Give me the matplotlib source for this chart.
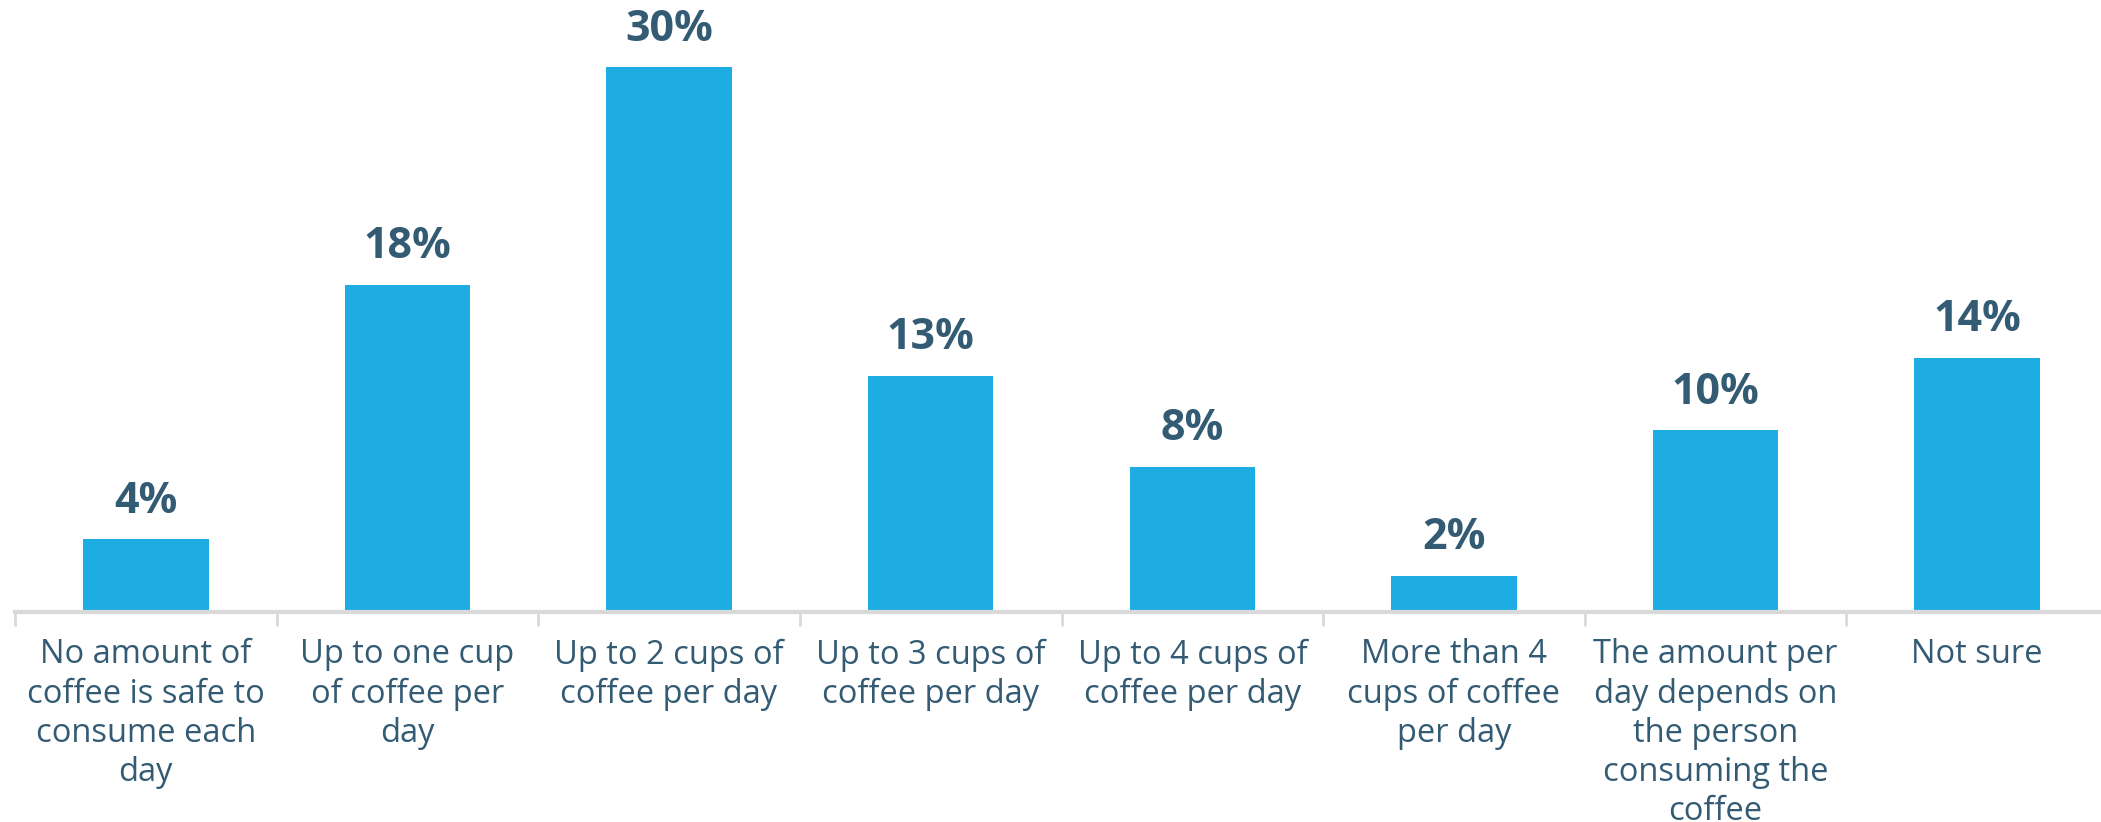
import matplotlib.pyplot as plt

# survey answers: how much coffee is safe per day
categories = [
    "No amount of\ncoffee is safe to\nconsume each\nday",
    "Up to one cup\nof coffee per\nday",
    "Up to 2 cups of\ncoffee per day",
    "Up to 3 cups of\ncoffee per day",
    "Up to 4 cups of\ncoffee per day",
    "More than 4\ncups of coffee\nper day",
    "The amount per\nday depends on\nthe person\nconsuming the\ncoffee",
    "Not sure",
]
shares = [4, 18, 30, 13, 8, 2, 10, 14]

bar_color = "#1EADE3"
text_color = "#335B74"
axis_color = "#D9D9D9"

fig = plt.figure(figsize=(21.01, 8.22), dpi=100)
# axes run slightly past the right edge, like the original slide
ax = fig.add_axes([15 / 2101, 210 / 822, 2093 / 2101, 612 / 822])

x = list(range(len(shares)))
bars = ax.bar(x, shares, width=0.48, color=bar_color, zorder=2)

for rect, v in zip(bars, shares):
    ax.annotate(f"{v}%", (rect.get_x() + rect.get_width() / 2, v),
                xytext=(0, 12), textcoords="offset points",
                ha="center", va="bottom", fontsize=31, fontweight="bold",
                family="Open Sans", color=text_color)

ax.set_xlim(-0.5, len(shares) - 0.5)
ax.set_ylim(0, 33.7)

ax.set_xticks(x)
ax.set_xticklabels(categories, fontsize=23.5, family="Open Sans",
                   color=text_color, linespacing=1.25, va="top")
ax.tick_params(axis="x", which="major", length=0, pad=19)
ax.set_xticks([i - 0.5 for i in x], minor=True)
ax.tick_params(axis="x", which="minor", length=10, width=2, color=axis_color)
ax.set_yticks([])

for side in ["left", "right", "top"]:
    ax.spines[side].set_visible(False)
ax.spines["bottom"].set_color(axis_color)
ax.spines["bottom"].set_linewidth(3)

fig.savefig("out.png", dpi=100)
